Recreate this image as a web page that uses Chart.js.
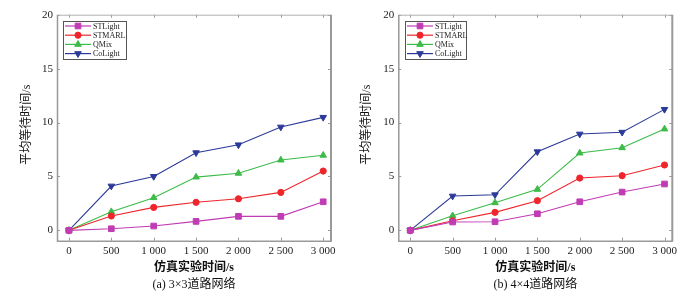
<!DOCTYPE html>
<html><head><meta charset="utf-8">
<script src="https://cdn.jsdelivr.net/npm/chart.js@4/dist/chart.umd.min.js"></script>
<style>
html,body{margin:0;padding:0;background:#fff;}
.wrap{position:absolute;top:0;height:300px;}
</style></head>
<body>
<div class="wrap" style="left:0;width:348px"><canvas id="c1" width="348" height="300"></canvas></div>
<div class="wrap" style="left:348px;width:349px"><canvas id="c2" width="349" height="300"></canvas></div>
<script>
const times = [0, 500, 1000, 1500, 2000, 2500, 3000];
const seriesNames = ["STLight", "STMARL", "QMix", "CoLight"];
const yTicks = [0, 5, 10, 15, 20];

// (a) 3x3 network
const a_STLight = [0, 0.15, 0.4, 0.83, 1.3, 1.3, 2.65];
const a_STMARL  = [0, 1.33, 2.13, 2.6, 2.93, 3.52, 5.5];
const a_QMix    = [0, 1.73, 3.03, 4.94, 5.29, 6.52, 6.96];
const a_CoLight = [0, 4.11, 5.0, 7.2, 7.93, 9.58, 10.48];

// (b) 4x4 network
const b_STLight = [0, 0.77, 0.8, 1.54, 2.65, 3.55, 4.3];
const b_STMARL  = [0, 0.89, 1.67, 2.75, 4.85, 5.07, 6.06];
const b_QMix    = [0, 1.35, 2.56, 3.8, 7.17, 7.66, 9.4];
const b_CoLight = [0, 3.18, 3.3, 7.29, 8.93, 9.1, 11.22];

const xTitle = "仿真实验时间/s";
const yTitle = "平均等待时间/s";
const captions = ["(a) 3×3道路网络", "(b) 4×4道路网络"];

const styles = [
  {color:"#C03CB4", point:"rect", rot:0, r:4},
  {color:"#EE262C", point:"circle", rot:0, r:3.1},
  {color:"#3CBB48", point:"triangle", rot:0, r:3.8},
  {color:"#2B3A98", point:"triangle", rot:180, r:3.8}
];

const serif = "'Liberation Serif','Times New Roman',serif";
const cjk = "'Liberation Serif','Noto Sans CJK SC',serif";

function fmt(v){ return v >= 1000 ? Math.floor(v/1000) + " " + String(v%1000).padStart(3,"0") : String(v); }

const framePlugin = {
  id: "frame",
  afterDatasetsDraw(chart, args, opts){
    const ctx = chart.ctx, a = chart.chartArea;
    const xs = chart.scales.x, ys = chart.scales.y;
    ctx.save();
    ctx.strokeStyle = "#9a9a9a";
    ctx.lineWidth = 1;
    // inward ticks
    ctx.beginPath();
    times.forEach(t => {
      const px = Math.round(xs.getPixelForValue(t)) + 0.5;
      ctx.moveTo(px, a.top); ctx.lineTo(px, a.top + 3);
      ctx.moveTo(px, a.bottom); ctx.lineTo(px, a.bottom - 3);
    });
    yTicks.forEach(t => {
      const py = Math.round(ys.getPixelForValue(t)) + 0.5;
      ctx.moveTo(a.left, py); ctx.lineTo(a.left + 3, py);
      ctx.moveTo(a.right, py); ctx.lineTo(a.right - 3, py);
    });
    ctx.stroke();
    // frame
    ctx.strokeStyle = "#b0b0b0";
    ctx.beginPath();
    ctx.moveTo(a.left + 0.5, a.top + 0.5); ctx.lineTo(a.right, a.top + 0.5);
    ctx.stroke();
    ctx.strokeStyle = "#999";
    ctx.lineWidth = 1.5;
    ctx.beginPath();
    ctx.moveTo(a.left + 0.5, a.top); ctx.lineTo(a.left + 0.5, a.bottom + 0.5); ctx.lineTo(a.right, a.bottom + 0.5);
    ctx.stroke();
    ctx.lineWidth = 2;
    ctx.beginPath();
    ctx.moveTo(a.right, a.top); ctx.lineTo(a.right, a.bottom + 1);
    ctx.stroke();

    // legend
    const lx = a.left + opts.dx, ly = 21, lw = opts.w, lh = 38;
    ctx.fillStyle = "#fff";
    ctx.fillRect(lx, ly, lw, lh);
    ctx.strokeStyle = "#555"; ctx.lineWidth = 1;
    ctx.strokeRect(lx + 0.5, ly + 0.5, lw, lh);
    ctx.font = "8px " + serif;
    ctx.textBaseline = "middle"; ctx.textAlign = "left";
    chart.data.datasets.forEach((ds, i) => {
      const y = ly + 5 + i * 9.2;
      ctx.strokeStyle = ds.borderColor; ctx.lineWidth = 1.2;
      ctx.beginPath(); ctx.moveTo(lx + 2, y); ctx.lineTo(lx + 28, y); ctx.stroke();
      ctx.fillStyle = ds.backgroundColor;
      ctx.lineWidth = 1;
      Chart.helpers.drawPoint(ctx, {pointStyle: ds.pointStyle, rotation: ds.pointRotation, radius: ds.pointRadius, borderWidth: 1}, lx + 15, y);
      ctx.fillStyle = "#222";
      ctx.fillText(ds.label, lx + 30, y + 0.5);
    });

    // titles
    ctx.fillStyle = "#111";
    ctx.textAlign = "center"; ctx.textBaseline = "middle";
    const cx = (a.left + a.right) / 2;
    ctx.font = "bold 12px " + cjk;
    ctx.fillText(xTitle, cx, 268);
    ctx.font = "12px " + cjk;
    ctx.fillText(opts.caption, cx, 285);
    ctx.save();
    ctx.translate(opts.yx, (a.top + a.bottom) / 2 - 3);
    ctx.rotate(-Math.PI / 2);
    ctx.font = "12px " + cjk;
    ctx.fillText(yTitle, 0, 0);
    ctx.restore();
    ctx.restore();
  }
};

function makeChart(id, data, leftW, rightPad, legend, caption, yx){
  const ds = seriesNames.map((n, i) => ({
    label: n,
    data: times.map((t, k) => ({x: t, y: data[i][k]})),
    borderColor: styles[i].color,
    backgroundColor: styles[i].color,
    pointStyle: styles[i].point,
    pointRotation: styles[i].rot,
    pointRadius: styles[i].r,
    pointBorderWidth: 1,
    borderWidth: 1.1,
    tension: 0
  }));
  return new Chart(document.getElementById(id), {
    type: "line",
    data: {datasets: ds},
    options: {
      responsive: false,
      animation: false,
      events: [],
      layout: {padding: {left: 0, top: 14.7, right: rightPad, bottom: 0}},
      plugins: {legend: {display: false}, tooltip: {enabled: false},
                frame: {dx: legend.dx, w: legend.w, caption: caption, yx: yx}},
      scales: {
        x: {
          type: "linear", min: -141, max: 3092,
          afterBuildTicks(s){ s.ticks = times.map(v => ({value: v})); },
          afterFit(s){ s.height = 59.3; },
          grid: {display: false, drawTicks: false},
          border: {display: false},
          ticks: {padding: 4, color: "#222", font: {family: serif, size: 11}, maxRotation: 0, callback: v => fmt(v)}
        },
        y: {
          min: -0.96, max: 20,
          afterBuildTicks(s){ s.ticks = yTicks.map(v => ({value: v})); },
          afterFit(s){ s.width = leftW; },
          grid: {display: false, drawTicks: false},
          border: {display: false},
          ticks: {padding: 4, color: "#222", font: {family: serif, size: 11}}
        }
      }
    },
    plugins: [framePlugin]
  });
}

makeChart("c1", [a_STLight, a_STMARL, a_QMix, a_CoLight], 57, 348 - 331, {dx: 6, w: 63}, captions[0], 27);
makeChart("c2", [b_STLight, b_STMARL, b_QMix, b_CoLight], 50.3, 349 - 324.3, {dx: 6.7, w: 61}, captions[1], 19);
</script>
</body></html>
